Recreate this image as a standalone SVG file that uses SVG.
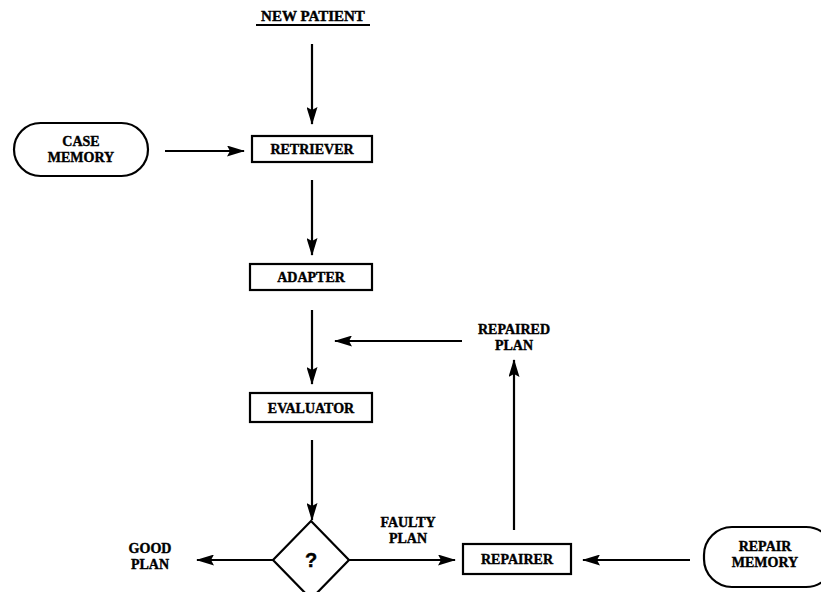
<svg xmlns="http://www.w3.org/2000/svg" width="821" height="592" viewBox="0 0 821 592">
<style>
text{font-family:"Liberation Serif","Times New Roman",serif;font-weight:bold;font-size:14px;fill:#000;text-anchor:middle;stroke:#000;stroke-width:0.4}
.box{fill:#fff;stroke:#000;stroke-width:2.2}
.ln{stroke:#000;stroke-width:2.2;fill:none}
.q{font-family:"Liberation Sans",Arial,sans-serif;font-size:20px}
.np{font-size:15px}
</style>
<defs>
<marker id="ah" markerWidth="18" markerHeight="11" refX="17" refY="5.5" orient="auto" markerUnits="userSpaceOnUse">
<path d="M0,0 L18,5.5 L0,11 L3,5.5 Z" fill="#000"/>
</marker>
</defs>
<rect width="821" height="592" fill="#fff"/>
<g id="new-patient">
<text class="np" x="313" y="21">NEW PATIENT</text>
<line x1="256" y1="25" x2="370" y2="25" stroke="#000" stroke-width="2"/>
</g>
<g id="case-memory">
<rect class="box" x="14" y="123" width="134" height="53" rx="26.5"/>
<text x="81" y="146">CASE</text>
<text x="81" y="162">MEMORY</text>
</g>
<g id="retriever">
<rect class="box" x="252" y="136" width="120" height="26"/>
<text x="312" y="154">RETRIEVER</text>
</g>
<g id="adapter">
<rect class="box" x="250" y="264" width="122" height="26"/>
<text x="311" y="282">ADAPTER</text>
</g>
<g id="evaluator">
<rect class="box" x="250" y="393" width="122" height="29"/>
<text x="311" y="413">EVALUATOR</text>
</g>
<g id="decision">
<polygon class="box" points="311,521 349,560 311,599 273,560"/>
<text class="q" x="311" y="567">?</text>
</g>
<g id="good-plan">
<text x="150" y="553">GOOD</text>
<text x="150" y="569">PLAN</text>
</g>
<g id="faulty-plan">
<text x="408" y="527">FAULTY</text>
<text x="408" y="543">PLAN</text>
</g>
<g id="repairer">
<rect class="box" x="463" y="544" width="108" height="30"/>
<text x="517" y="564">REPAIRER</text>
</g>
<g id="repair-memory">
<rect class="box" x="704" y="527" width="130" height="60" rx="28"/>
<text x="765" y="551">REPAIR</text>
<text x="765" y="567">MEMORY</text>
</g>
<g id="repaired-plan">
<text x="514" y="334">REPAIRED</text>
<text x="514" y="350">PLAN</text>
</g>
<g id="connectors">
<line class="ln" x1="312" y1="44" x2="312" y2="124" marker-end="url(#ah)"/>
<line class="ln" x1="165" y1="151" x2="244" y2="151" marker-end="url(#ah)"/>
<line class="ln" x1="312" y1="180" x2="312" y2="255" marker-end="url(#ah)"/>
<line class="ln" x1="312" y1="310" x2="312" y2="384" marker-end="url(#ah)"/>
<line class="ln" x1="312" y1="440" x2="312" y2="520" marker-end="url(#ah)"/>
<line class="ln" x1="273" y1="560" x2="197" y2="560" marker-end="url(#ah)"/>
<line class="ln" x1="349" y1="560" x2="455" y2="560" marker-end="url(#ah)"/>
<line class="ln" x1="690" y1="560" x2="583" y2="560" marker-end="url(#ah)"/>
<line class="ln" x1="514" y1="530" x2="514" y2="360" marker-end="url(#ah)"/>
<line class="ln" x1="462" y1="341" x2="335" y2="341" marker-end="url(#ah)"/>
</g>
</svg>
